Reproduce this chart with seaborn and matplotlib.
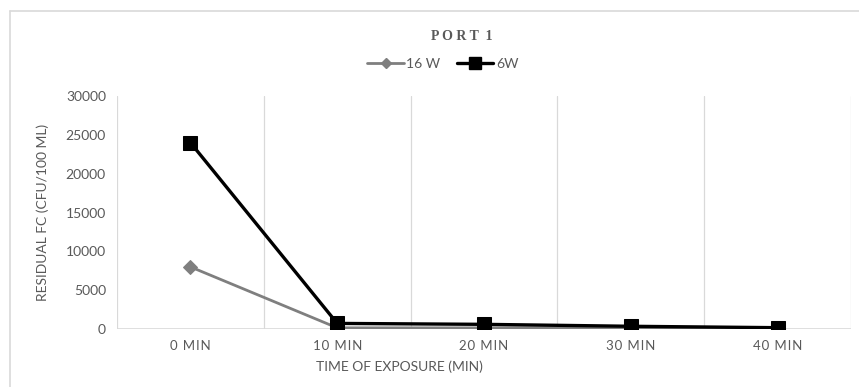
import matplotlib
matplotlib.use("Agg")
import matplotlib.pyplot as plt
from matplotlib.lines import Line2D
import seaborn as sns
import pandas as pd

# Exposure times and residual faecal coliform counts per lamp power
categories = ["0 MIN", "10 MIN", "20 MIN", "30 MIN", "40 MIN"]
w16 = [8000, 150, 150, 150, 100]
w6 = [24000, 720, 600, 350, 170]
series_names = ["16 W", "6W"]
y_ticks = [0, 5000, 10000, 15000, 20000, 25000, 30000]

df = pd.DataFrame({
    "pos": list(range(len(categories))) * 2,
    "value": w16 + w6,
    "series": [series_names[0]] * len(categories) + [series_names[1]] * len(categories),
})

sns.set_style("white")
plt.rcParams["font.family"] = ["Lato", "DejaVu Sans"]

fig = plt.figure(figsize=(8.59, 3.87), dpi=100)
ax = fig.add_axes([117 / 859, 1 - 329 / 387, (851 - 117) / 859, (329 - 96) / 387])

colors = {"16 W": "#7f7f7f", "6W": "#000000"}
markers = {"16 W": "D", "6W": "s"}
sizes = {"16 W": 7, "6W": 10}
widths = {"16 W": 2.0, "6W": 2.4}

for name in series_names:
    sub = df[df["series"] == name]
    sns.lineplot(data=sub, x="pos", y="value", ax=ax, color=colors[name],
                 marker=markers[name], markersize=sizes[name],
                 markeredgecolor=colors[name], linewidth=widths[name],
                 legend=False, zorder=3 if name == "6W" else 2)


def spaced(text):
    # widen the tracking of category labels
    return "\u200a".join(text)


ax.set_xlim(-0.5, len(categories) - 0.5)
ax.set_ylim(0, 30000)
ax.set_xticks(range(len(categories)))
ax.set_xticklabels([spaced(c) for c in categories])
ax.set_yticks(y_ticks)
ax.set_yticklabels([str(v) for v in y_ticks])
ax.tick_params(axis="both", length=0, labelsize=10, colors="#595959", pad=8)
for lbl in ax.get_xticklabels():
    lbl.set_fontsize(9.5)

# vertical gridlines between categories
for b in [i - 0.5 for i in range(len(categories) + 1)]:
    ax.axvline(b, color="#d9d9d9", linewidth=0.9, zorder=0)
ax.axhline(0, color="#d9d9d9", linewidth=1.2, zorder=1)
for s in ax.spines.values():
    s.set_visible(False)

ax.set_xlabel("")
ax.set_ylabel("")
fig.text(399 / 859, 1 - 367 / 387, "TIME OF EXPOSURE (MIN)", ha="center", va="center",
         fontsize=10, color="#595959", family=["Liberation Sans Narrow", "Lato"])
fig.text(43 / 859, 1 - 212 / 387, "RESIDUAL FC (CFU/100 ML)", ha="center", va="center",
         rotation=90, fontsize=10, color="#595959", family=["Liberation Sans Narrow", "Lato"])

fig.text(462 / 859, 1 - 36 / 387, "P O R T  1", ha="center", va="center", fontsize=10,
         fontweight="bold", color="#595959", family=["Liberation Serif", "DejaVu Serif"])

handles = [Line2D([], [], color=colors[n], marker=markers[n], markersize=sizes[n] - 2,
                  linewidth=widths[n]) for n in series_names]
fig.legend(handles, series_names, loc="center", bbox_to_anchor=(443 / 859, 1 - 64 / 387),
           ncol=2, frameon=False, fontsize=10, labelcolor="#595959",
           handlelength=2.6, handletextpad=0.2, columnspacing=1.2)

# chart frame
fig.add_artist(Line2D([10 / 859, 1], [1 - 11 / 387] * 2, transform=fig.transFigure,
                      color="#d9d9d9", linewidth=1.2))
fig.add_artist(Line2D([10 / 859] * 2, [0, 1 - 11 / 387], transform=fig.transFigure,
                      color="#d9d9d9", linewidth=1.2))

fig.savefig("out.png", dpi=100)
